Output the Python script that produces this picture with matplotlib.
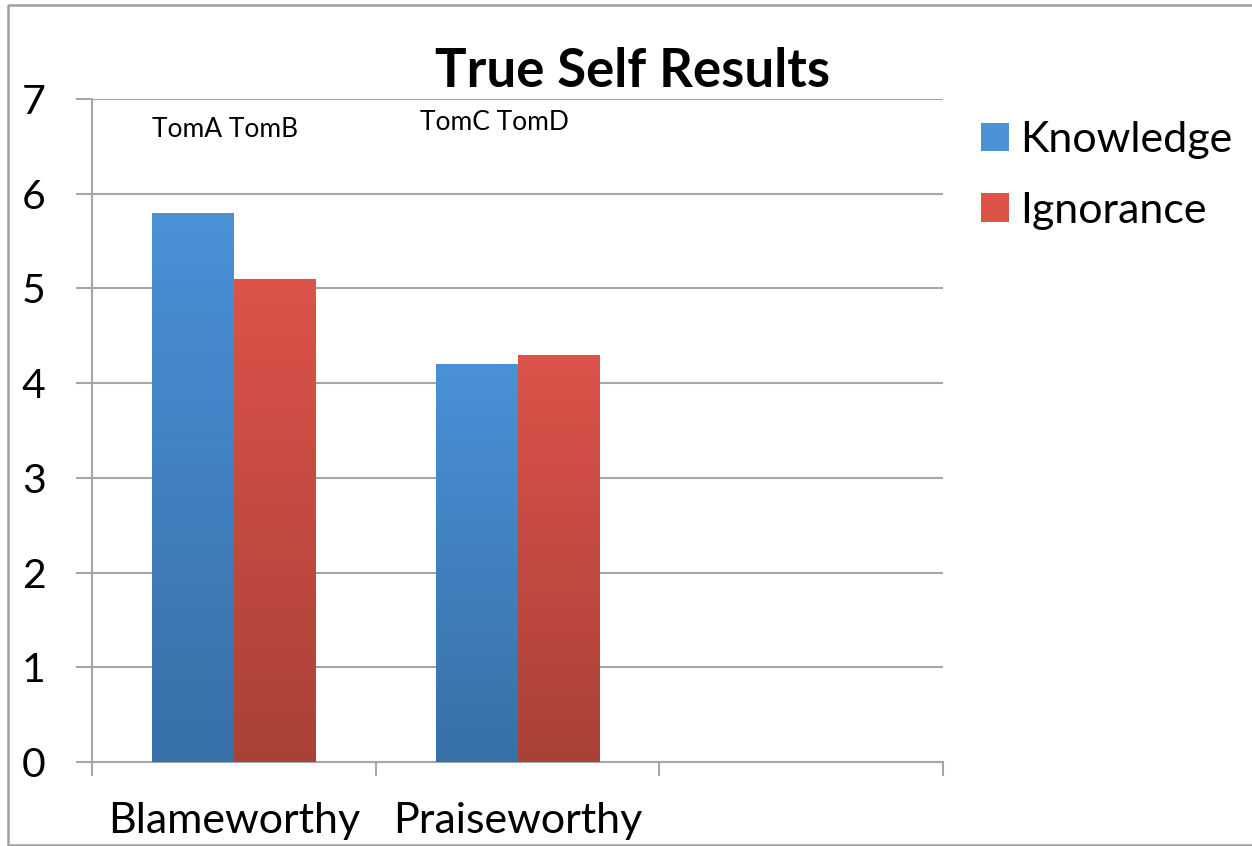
import matplotlib.pyplot as plt
import numpy as np
from matplotlib.colors import LinearSegmentedColormap
from matplotlib.lines import Line2D

plt.rcParams["font.family"] = ["Lato", "DejaVu Sans"]

categories = ["Blameworthy", "Praiseworthy", ""]
knowledge = [5.8, 4.2, np.nan]
ignorance = [5.1, 4.3, np.nan]
series_names = ["Knowledge", "Ignorance"]
pair_notes = ["TomA TomB", "TomC TomD"]

GRID = "#a6a6a6"
BLUE_TOP, BLUE_BOTTOM = "#4a91d7", "#3870a8"
RED_TOP, RED_BOTTOM = "#dc534a", "#aa4138"


def shade_bars(ax, bars, top, bottom):
    cmap = LinearSegmentedColormap.from_list("shade", [bottom, top])
    grad = np.linspace(0, 1, 256).reshape(-1, 1)
    for bar in bars:
        h = bar.get_height()
        if not np.isfinite(h):
            continue
        x0 = bar.get_x()
        x1 = x0 + bar.get_width()
        im = ax.imshow(grad, cmap=cmap, origin="lower", aspect="auto",
                       extent=(x0, x1, 0, h), zorder=3)
        im.set_clip_path(bar)


fig = plt.figure(figsize=(12.52, 8.46), dpi=100)
ax = fig.add_axes([0.0735, 0.0993, 0.6797, 0.7837])

x = np.arange(len(categories))
width = 0.2875
b1 = ax.bar(x - width / 2, knowledge, width, color=BLUE_TOP, label=series_names[0], zorder=2)
b2 = ax.bar(x + width / 2, ignorance, width, color=RED_TOP, label=series_names[1], zorder=2)
shade_bars(ax, b1, BLUE_TOP, BLUE_BOTTOM)
shade_bars(ax, b2, RED_TOP, RED_BOTTOM)

ax.set_xlim(-0.5, len(categories) - 0.5)
ax.set_ylim(0, 7)
ax.set_yticks(range(0, 8))
ax.set_xticks(x)
ax.set_xticklabels(categories)
ax.set_xticks(np.arange(len(categories) + 1) - 0.5, minor=True)
ax.tick_params(axis="x", which="major", length=0, pad=29, labelsize=31)
ax.tick_params(axis="x", which="minor", length=10, width=1.5, color=GRID, direction="out")
ax.tick_params(axis="y", length=11.5, width=1.5, color=GRID, pad=22, labelsize=29.5)
ax.grid(axis="y", color=GRID, linewidth=1.5, zorder=0)
ax.set_axisbelow(True)
for side in ["top", "right"]:
    ax.spines[side].set_visible(False)
for side in ["left", "bottom"]:
    ax.spines[side].set_color(GRID)
    ax.spines[side].set_linewidth(1.5)

ax.text(-0.03, 6.6, pair_notes[0], ha="center", va="baseline", fontsize=19)
ax.text(0.92, 6.67, pair_notes[1], ha="center", va="baseline", fontsize=19)

fig.text(0.5052, 0.8972, "True Self Results", ha="center", va="baseline",
         fontsize=38, fontweight="bold")

leg = ax.legend(handles=[b1, b2], loc="upper left", bbox_to_anchor=(0.999, 1.025),
                frameon=False, fontsize=31, handlelength=0.65, handleheight=0.65,
                handletextpad=0.25, labelspacing=0.755)

# thin gray frame around the chart area
border = Line2D([1252, 8, 8, 1252], [841, 841, 1, 1], color="#a0a0a0", linewidth=1.8,
                transform=None)
fig.add_artist(border)

fig.savefig("out.png", dpi=100)
